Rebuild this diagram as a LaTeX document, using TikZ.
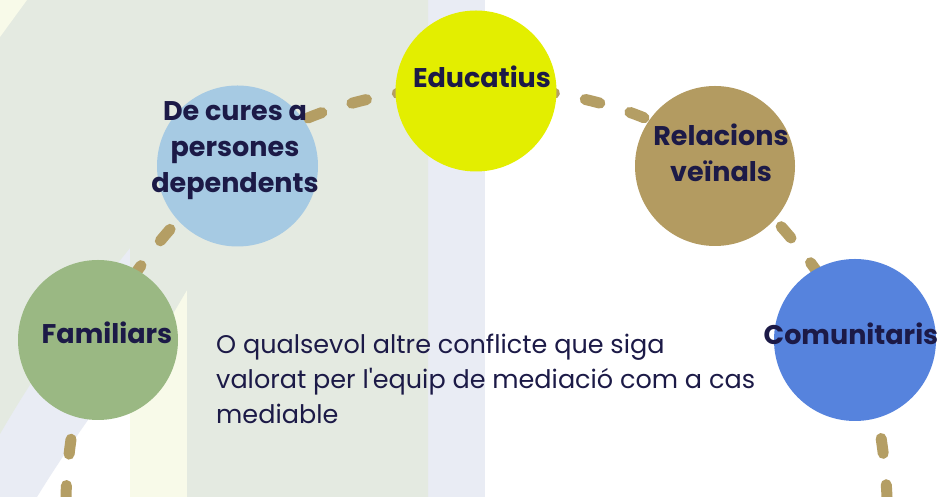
\documentclass[tikz,border=0pt]{standalone}
\usepackage{fontspec}
\setmainfont{Poppins}[Ligatures=TeXOff]
\pgfdeclarelayer{bg}
\pgfdeclarelayer{lines}
\pgfsetlayers{bg,lines,main}
\definecolor{gg}{HTML}{E4EAE1}
\definecolor{lav}{HTML}{E9ECF4}
\definecolor{pyel}{HTML}{F8FAE9}
\definecolor{ink}{HTML}{1C1A47}
\definecolor{cgreen}{HTML}{9AB883}
\definecolor{cblue}{HTML}{A6CAE3}
\definecolor{cyel}{HTML}{E3EE00}
\definecolor{ctan}{HTML}{B39B61}
\definecolor{cblue2}{HTML}{5683DD}
\definecolor{dashc}{HTML}{B49E64}
\tikzset{
  bubble/.style={circle, inner sep=0pt, minimum size=#1},
  lab/.style={font=\fontsize{27}{36}\selectfont\bfseries, text=ink, inner sep=0pt, align=center},
  body/.style={font=\fontsize{25.5}{35}\selectfont, text=ink, inner sep=0pt, align=left},
  dashline/.style={draw=dashc, line width=11pt, line cap=round, dash pattern=on 15pt off 31.5pt}
}
\begin{document}
\begin{tikzpicture}[x=1pt,y=1pt]
\useasboundingbox (0,0) rectangle (938,497);
\begin{pgfonlayer}{bg}
\fill[white] (0,0) rectangle (938,497);
\fill[lav] (428,0) rectangle (485,497);
\fill[lav] (0,0) -- (37,0) .. controls (80,70) and (140,150) .. (200,225) -- (260,300) -- (260,497) -- (0,497) -- cycle;
\fill[pyel] (130,0) rectangle (187,497);
\fill[gg] (0,497) -- (130,497) -- (130,249) .. controls (70,175) and (30,115) .. (0,63) -- cycle;
\fill[gg] (130,497) -- (428,497) -- (428,0) -- (187,0) -- (187,207) -- (130,110) -- cycle;
\fill[pyel] (0,497) -- (27,497) -- (0,460) -- cycle;
\end{pgfonlayer}

\node[bubble=160pt, fill=cgreen] (fam) at (98,157) {};
\node[bubble=161pt, fill=cblue] (cur) at (237.5,331) {};
\node[bubble=161pt, fill=cyel] (edu) at (476,406) {};
\node[bubble=160pt, fill=ctan] (rel) at (715,331) {};
\node[bubble=162pt, fill=cblue2] (com) at (855,157) {};

\coordinate (s0) at (66,0);
\coordinate (s1) at (887,0);

\begin{pgfonlayer}{lines}
\draw[dashline, dash phase=3.5pt] (s0) .. controls (67,45) and (78,120) .. (fam.center);
\draw[dashline, dash phase=21.9pt] (fam.center) .. controls (125,225) and (197,303) .. (cur.center);
\draw[dashline, dash phase=6.9pt] (cur.center) .. controls (282.5,389) and (406,410) .. ([yshift=6pt]edu.center);
\draw[dashline, dash phase=29.1pt] ([yshift=6pt]edu.center) .. controls (546,410) and (670,389) .. (rel.center);
\draw[dashline, dash phase=3pt] (rel.center) .. controls (757,303) and (829,225) .. (com.center);
\draw[dashline, dash phase=37.2pt] (com.center) .. controls (874,120) and (885,45) .. (s1);
\end{pgfonlayer}

\node[lab, anchor=base] (famt) at (107,153) {Familiars};
\node[lab, anchor=base] (edut) at (482,409) {Educatius};
\node[lab, anchor=base] (comt) at (851,152) {Comunitaris};
\node[lab] (relt) at (721,344.5) {Relacions\\veïnals};
\node[lab] (curt) at (235,346.5) {De cures a\\persones\\dependents};
\node[body, anchor=north west] (txt) at (216,163) {O qualsevol altre conflicte que siga\\valorat per l'equip de mediació com a cas\\mediable};
\end{tikzpicture}
\end{document}
